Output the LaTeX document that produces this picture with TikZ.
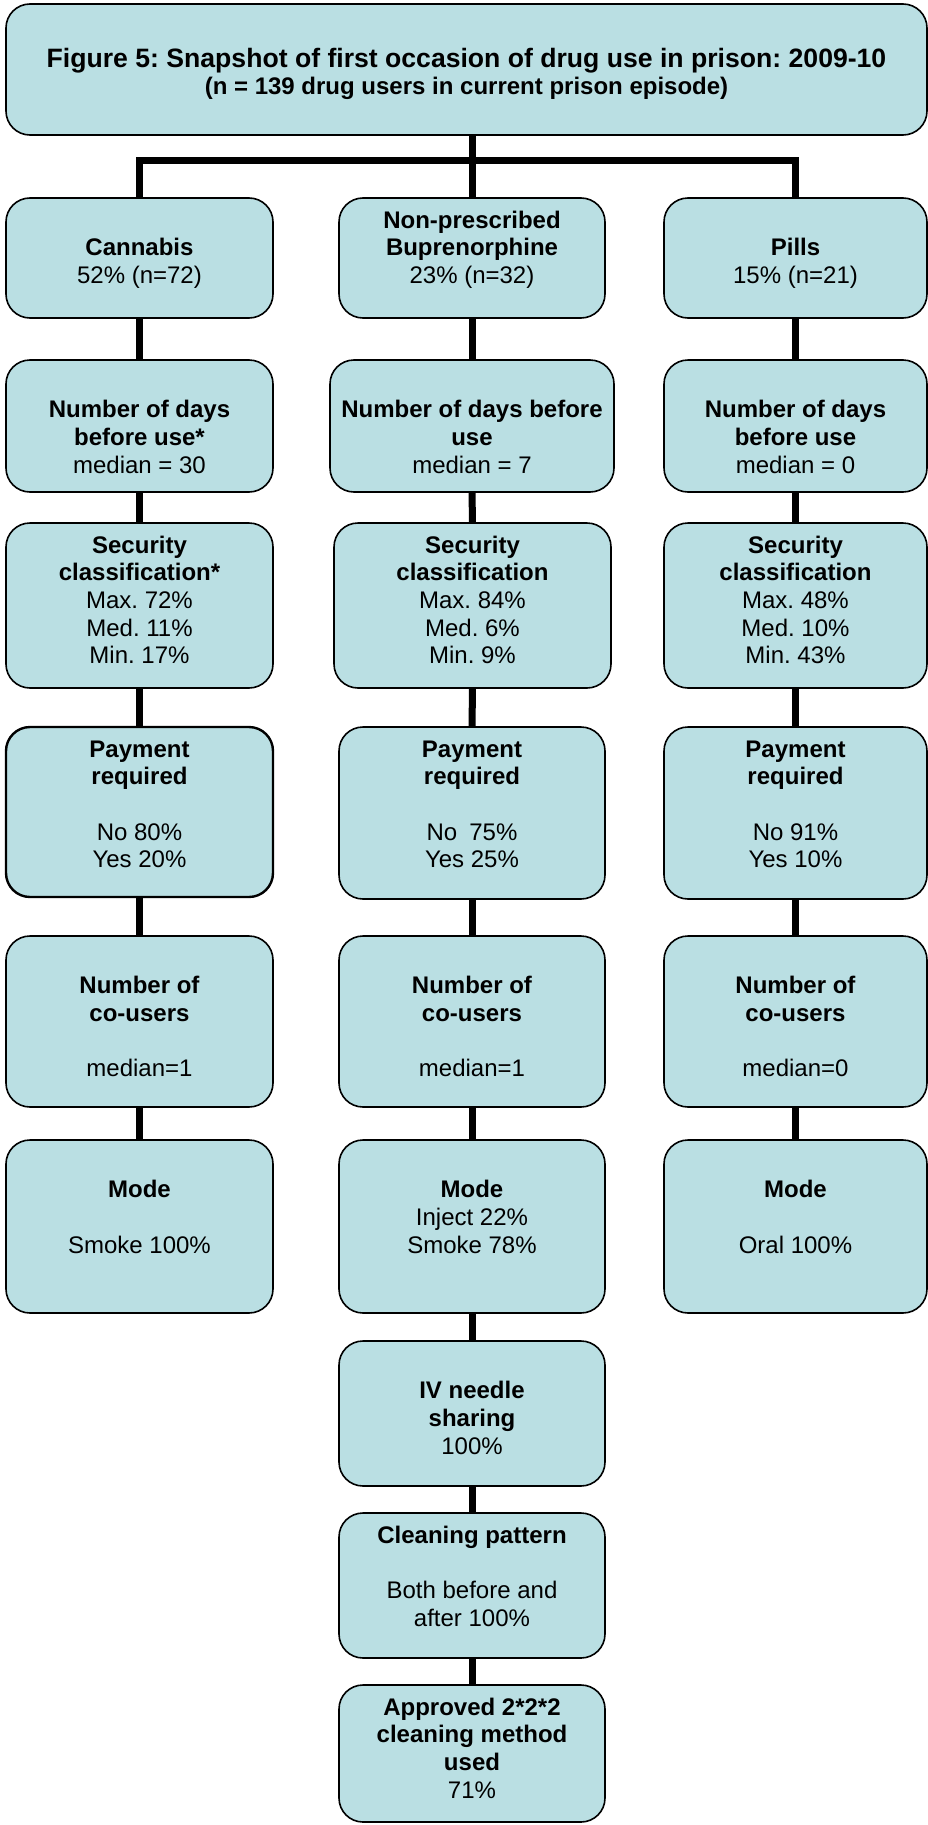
\documentclass[tikz,border=0pt]{standalone}
\usepackage{fontspec}
\setmainfont{Liberation Sans}
\frenchspacing
\definecolor{boxfill}{RGB}{186,223,227}
\tikzset{
  box/.style={draw=black, line width=1.6pt, fill=boxfill, rounded corners=24pt,
    inner sep=0pt, outer sep=0pt, anchor=north west},
  conn/.style={draw=black, line width=7pt, line join=miter},
}
\newcommand{\bt}[3]{\begin{minipage}[c][#2pt][t]{#1pt}\centering
  \fontsize{24}{27.7}\selectfont\rule{0pt}{30pt}#3\end{minipage}}
\newcommand{\blank}{\mbox{}}
\begin{document}
\begin{tikzpicture}[x=1pt,y=-1pt]
\useasboundingbox (0,0) rectangle (928,1825);
% title
\node[box] (title) at (6,4) {\begin{minipage}[c][131pt][t]{921pt}\centering\frenchspacing
  \fontsize{26.6}{28}\selectfont\bfseries\rule{0pt}{64pt}Figure 5: Snapshot of first occasion of drug use in prison: 2009-10\\
  \fontsize{24}{27}\selectfont (n = 139 drug users in current prison episode)\end{minipage}};
% row 1
\node[box] (l1) at (6,198) {\bt{267}{120}{\blank\\ \textbf{Cannabis}\\ 52\% (n=72)}};
\node[box] (m1) at (339,198) {\bt{266}{120}{\textbf{Non-prescribed}\\ \textbf{Buprenorphine}\\ 23\% (n=32)}};
\node[box] (r1) at (664,198) {\bt{263}{120}{\blank\\ \textbf{Pills}\\ 15\% (n=21)}};
% row 2
\node[box] (l2) at (6,360) {\bt{267}{132}{\blank\\ \textbf{Number of days}\\ \textbf{before use*}\\ median = 30}};
\node[box] (m2) at (330,360) {\bt{284}{132}{\blank\\ \textbf{Number of days before}\\ \textbf{use}\\ median = 7}};
\node[box] (r2) at (664,360) {\bt{263}{132}{\blank\\ \textbf{Number of days}\\ \textbf{before use}\\ median = 0}};
% row 3
\node[box] (l3) at (6,523) {\bt{267}{165}{\textbf{Security}\\ \textbf{classification*}\\ Max. 72\%\\ Med. 11\%\\ Min. 17\%}};
\node[box] (m3) at (334,523) {\bt{277}{165}{\textbf{Security}\\ \textbf{classification}\\ Max. 84\%\\ Med. 6\%\\ Min. 9\%}};
\node[box] (r3) at (664,523) {\bt{263}{165}{\textbf{Security}\\ \textbf{classification}\\ Max. 48\%\\ Med. 10\%\\ Min. 43\%}};
% row 4
\node[box, line width=2.4pt] (l4) at (6,727) {\bt{267}{170}{\textbf{Payment}\\ \textbf{required}\\ \blank\\ No 80\%\\ Yes 20\%}};
\node[box] (m4) at (339,727) {\bt{266}{172}{\textbf{Payment}\\ \textbf{required}\\ \blank\\ No\enspace 75\%\\ Yes 25\%}};
\node[box] (r4) at (664,727) {\bt{263}{172}{\textbf{Payment}\\ \textbf{required}\\ \blank\\ No 91\%\\ Yes 10\%}};
% row 5
\node[box] (l5) at (6,936) {\bt{267}{171}{\blank\\ \textbf{Number of}\\ \textbf{co-users}\\ \blank\\ median=1}};
\node[box] (m5) at (339,936) {\bt{266}{171}{\blank\\ \textbf{Number of}\\ \textbf{co-users}\\ \blank\\ median=1}};
\node[box] (r5) at (664,936) {\bt{263}{171}{\blank\\ \textbf{Number of}\\ \textbf{co-users}\\ \blank\\ median=0}};
% row 6
\node[box] (l6) at (6,1140) {\bt{267}{173}{\blank\\ \textbf{Mode}\\ \blank\\ Smoke 100\%}};
\node[box] (m6) at (339,1140) {\bt{266}{173}{\blank\\ \textbf{Mode}\\ Inject 22\%\\ Smoke 78\%}};
\node[box] (r6) at (664,1140) {\bt{263}{173}{\blank\\ \textbf{Mode}\\ \blank\\ Oral 100\%}};
% middle column continuation
\node[box] (m7) at (339,1341) {\bt{266}{145}{\blank\\ \textbf{IV needle}\\ \textbf{sharing}\\ 100\%}};
\node[box] (m8) at (339,1513) {\bt{266}{145}{\textbf{Cleaning pattern}\\ \blank\\ Both before and\\ after 100\%}};
\node[box] (m9) at (339,1685) {\bt{266}{137}{\textbf{Approved 2*2*2}\\ \textbf{cleaning method}\\ \textbf{used}\\ 71\%}};
% connectors
\coordinate (bar) at (0,160);
\draw[conn] (title.south -| m1.north) -- (m1.north);
\draw[conn] (l1.north) -- (l1.north |- bar) -- (r1.north |- bar) -- (r1.north);
\foreach \c in {l,m,r}{
  \foreach \a/\b in {1/2,2/3,3/4,4/5,5/6}{
    \draw[conn] (\c\a.south) -- (\c\b.north);
  }
}
\draw[conn] (m6.south) -- (m7.north);
\draw[conn] (m7.south) -- (m8.north);
\draw[conn] (m8.south) -- (m9.north);
\end{tikzpicture}
\end{document}
